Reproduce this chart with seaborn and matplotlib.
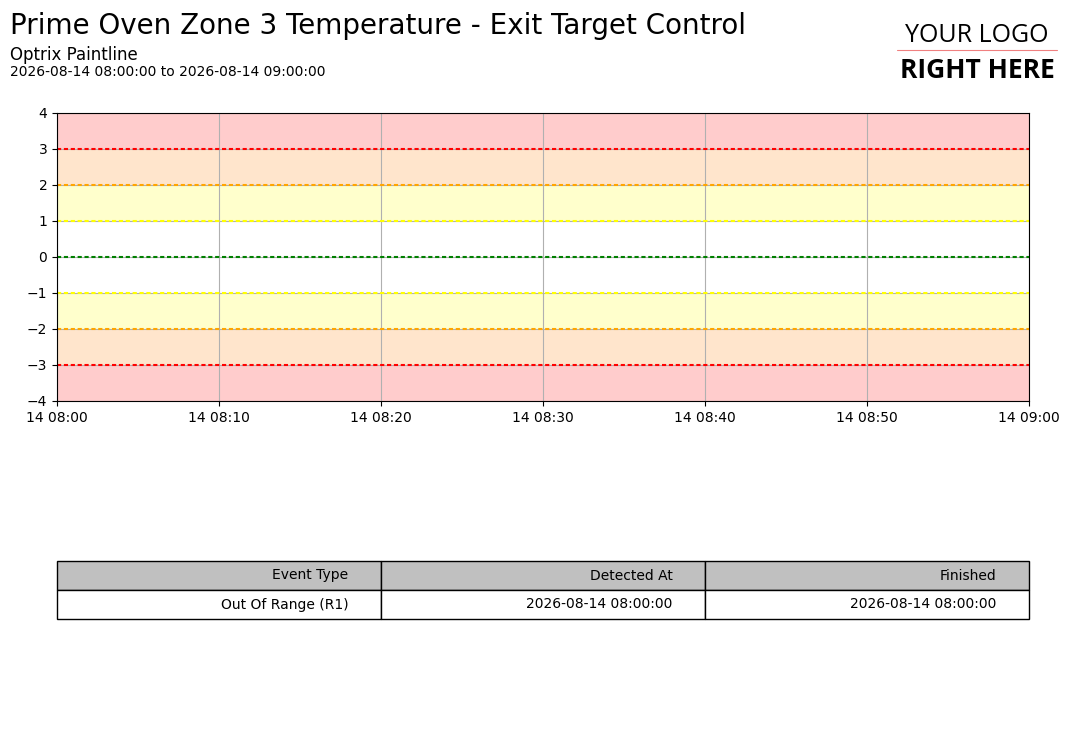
import matplotlib
matplotlib.use("Agg")
import matplotlib.pyplot as plt
import matplotlib.dates as mdates
import seaborn as sns
import pandas as pd
import numpy as np

# ---- data ----
title = "Prime Oven Zone 3 Temperature - Exit Target Control"
subtitle = "Optrix Paintline"
range_text = "2026-08-14 08:00:00 to 2026-08-14 09:00:00"
t_start = pd.Timestamp("2026-08-14 08:00:00")
t_end = pd.Timestamp("2026-08-14 09:00:00")

limit_values = [3, 2, 1, 0, -1, -2, -3]
limit_colors = ["red", "orange", "yellow", "green", "yellow", "orange", "red"]

band_lows = [3, 2, 1, -2, -3, -4]
band_highs = [4, 3, 2, -1, -2, -3]
band_colors = ["#ffcccc", "#ffe5cc", "#ffffcc", "#ffffcc", "#ffe5cc", "#ffcccc"]

y_min, y_max = -4, 4

table_columns = ["Event Type", "Detected At", "Finished"]
table_rows = [["Out Of Range (R1)", "2026-08-14 08:00:00", "2026-08-14 08:00:00"]]

# ---- plot ----
sns.set_style("white")
plt.rcParams["font.family"] = ["DejaVu Sans"]
plt.rcParams.update({"text.color": "black", "axes.labelcolor": "black",
                     "xtick.color": "black", "ytick.color": "black",
                     "axes.edgecolor": "black"})

fig = plt.figure(figsize=(10.73, 7.44), dpi=100)
ax = fig.add_axes([57 / 1073, 1 - 401 / 744, (1029 - 57) / 1073, (401 - 113) / 744])

for lo, hi, c in zip(band_lows, band_highs, band_colors):
    ax.axhspan(lo, hi, color=c, lw=0, zorder=0)

ax.grid(True, color="#b0b0b0", lw=0.8, zorder=1)
ax.set_axisbelow(False)

lim_df = pd.DataFrame({
    "time": [t for _ in limit_values for t in (t_start, t_end)],
    "value": [v for v in limit_values for _ in (0, 1)],
    "limit": [i for i in range(len(limit_values)) for _ in (0, 1)],
})
for i, (v, c) in enumerate(zip(limit_values, limit_colors)):
    sub = lim_df[lim_df["limit"] == i]
    sns.lineplot(data=sub, x="time", y="value", ax=ax, color=c, lw=1.5,
                 dashes=False, zorder=3)
for line in ax.get_lines():
    line.set_dashes((2, 1.3))

ax.set_xlim(t_start, t_end)
ax.set_ylim(y_min, y_max)
ax.set_yticks(range(y_min, y_max + 1))
ax.xaxis.set_major_locator(mdates.MinuteLocator(byminute=range(0, 60, 10)))
ax.xaxis.set_major_formatter(mdates.DateFormatter("%d %H:%M"))
ax.set_xlabel("")
ax.set_ylabel("")
ax.tick_params(axis="both", which="major", length=3.5, width=0.8, labelsize=10,
               bottom=True, left=True, color="black", labelcolor="black")
for s in ax.spines.values():
    s.set_color("black")
    s.set_linewidth(0.8)
    s.set_zorder(5)

# titles
fig.text(10 / 1073, 1 - 26 / 744, title, fontsize=20, va="center", ha="left")
fig.text(10 / 1073, 1 - 55 / 744, subtitle, fontsize=12, va="center", ha="left")
fig.text(10 / 1073, 1 - 72 / 744, range_text, fontsize=10, va="center", ha="left")

# logo
fig.text(977 / 1073, 1 - 35 / 744, "YOUR LOGO", fontsize=18, ha="center", va="center",
         family=["Open Sans", "DejaVu Sans"])
fig.add_artist(plt.Line2D([897 / 1073, 1057 / 1073], [1 - 50 / 744, 1 - 50 / 744],
                          color="#f08080", lw=0.8))
fig.text(977 / 1073, 1 - 70 / 744, "RIGHT HERE", fontsize=19, ha="center", va="center",
         weight="bold", family=["Open Sans", "DejaVu Sans"], fontstretch="condensed")

# table
tax = fig.add_axes([57 / 1073, 1 - 619 / 744, (1029 - 57) / 1073, (619 - 561) / 744])
tax.axis("off")
tbl = tax.table(cellText=table_rows, colLabels=table_columns, loc="center",
                cellLoc="right", colLoc="right", bbox=[0, 0, 1, 1])
tbl.auto_set_font_size(False)
tbl.set_fontsize(10)
for (r, c), cell in tbl.get_celld().items():
    cell.set_edgecolor("black")
    cell.set_linewidth(1)
    cell.get_text().set_color("black")
    if r == 0:
        cell.set_facecolor("#c0c0c0")

fig.savefig("out.png", dpi=100)
